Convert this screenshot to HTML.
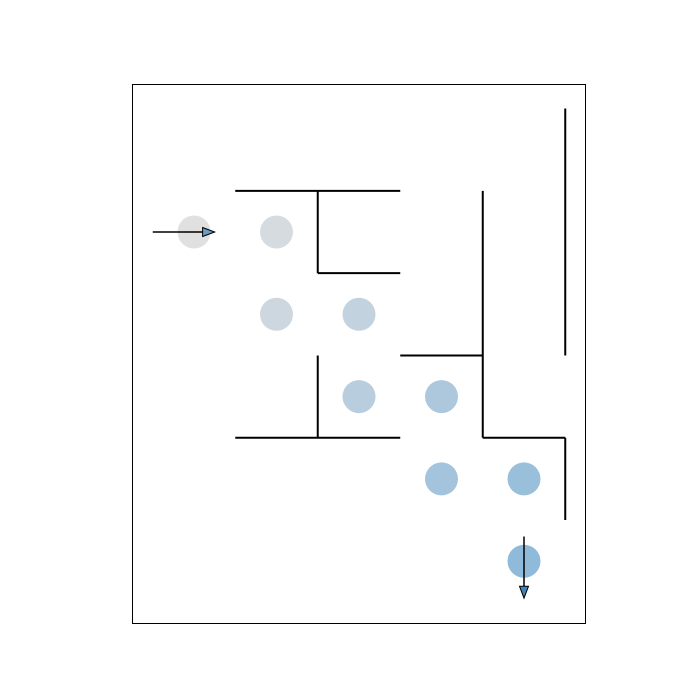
<!DOCTYPE html>
<html><head><meta charset="utf-8"><style>body{margin:0;background:#fff}svg{display:block}</style></head>
<body>
<svg id="chart" width="700" height="700" xmlns="http://www.w3.org/2000/svg">
<rect x="132.5" y="84.5" width="453" height="539" fill="#fff" stroke="#000" stroke-width="1"/>
<g id="walls"></g><g id="path"></g><g id="arrows"></g>
</svg>
<script>
const pathCols=[0,1,1,2,2,3,3,4,4];
const pathRows=[0,0,1,1,2,2,3,3,4];
const wallX1=[0.5,1.5,1.5,3.5,4.5,2.5,1.5,0.5,3.5,4.5];
const wallY1=[-0.5,-0.5,0.5,-0.5,-1.5,1.5,1.5,2.5,2.5,2.5];
const wallX2=[2.5,1.5,2.5,3.5,4.5,3.5,1.5,2.5,4.5,4.5];
const wallY2=[-0.5,0.5,0.5,2.5,1.5,1.5,2.5,2.5,2.5,3.5];
const arrowX1=[-0.5,4], arrowY1=[0,3.7], arrowX2=[0.25,4], arrowY2=[0,4.45];
const X=c=>194+82.5*c, Y=r=>232+82.3*r;
const NS="http://www.w3.org/2000/svg";
function mk(t,a,p){const e=document.createElementNS(NS,t);for(const k in a)e.setAttribute(k,a[k]);p.appendChild(e);return e;}
const wg=document.getElementById('walls');
for(let i=0;i<wallX1.length;i++){
 const l=mk('line',{x1:X(wallX1[i]),y1:Y(wallY1[i]),x2:X(wallX2[i]),y2:Y(wallY2[i]),stroke:'#000','stroke-width':2},wg);
 
 
}
const pg=document.getElementById('path');
const c0=[224,224,224],c1=[143,186,218];
for(let i=0;i<pathCols.length;i++){
 const t=i/(pathCols.length-1);
 const col=c0.map((v,k)=>Math.round(v+(c1[k]-v)*t));
 const c=mk('circle',{cx:X(pathCols[i]),cy:Y(pathRows[i]),r:16.5,fill:`rgb(${col.join(',')})`},pg);
 
 
}
const ag=document.getElementById('arrows');
for(let i=0;i<arrowX1.length;i++){
 const x1=X(arrowX1[i]),y1=Y(arrowY1[i]),x2=X(arrowX2[i]),y2=Y(arrowY2[i]);
 const g=mk('g',{},ag);
 
 
 const dx=x2-x1,dy=y2-y1,L=Math.hypot(dx,dy),ux=dx/L,uy=dy/L,hl=12,hw=4.5;
 const bx=x2-ux*hl,by=y2-uy*hl;
 mk('line',{x1:x1,y1:y1,x2:bx,y2:by,stroke:'#000','stroke-width':1.5},g);
 mk('polygon',{points:`${x2},${y2} ${bx-uy*hw},${by+ux*hw} ${bx+uy*hw},${by-ux*hw}`,fill:i===0?'#6a9cc4':'#3f83bd',stroke:'#000','stroke-width':1},g);
}
</script>
</body></html>
